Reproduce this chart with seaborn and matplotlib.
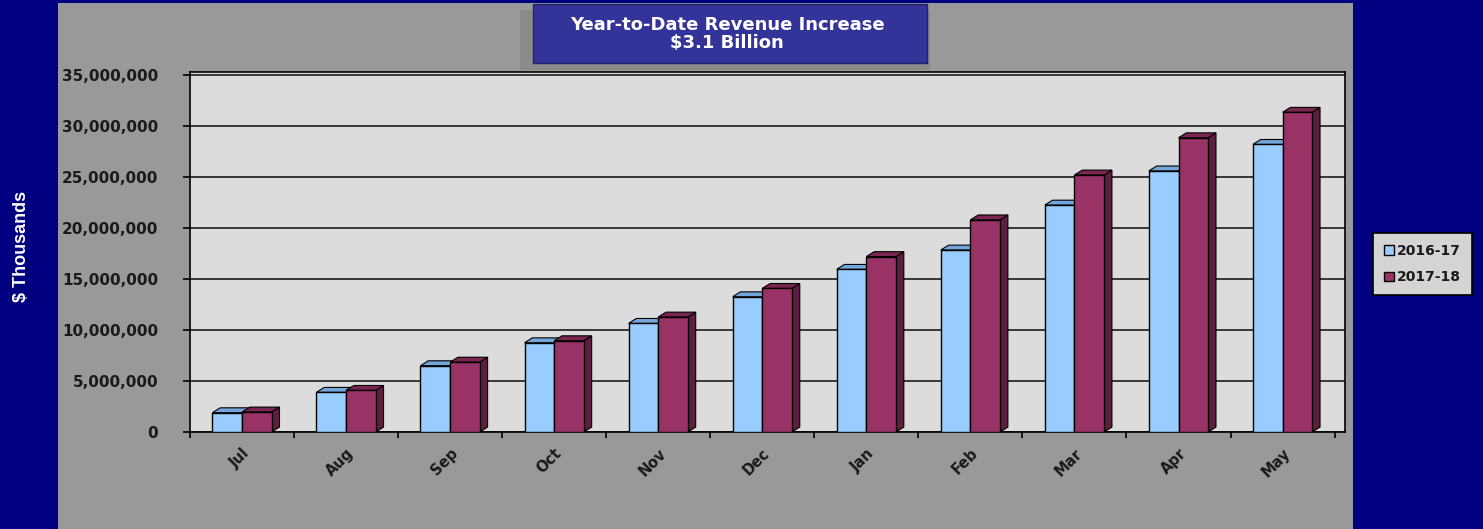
import matplotlib
matplotlib.use("Agg")
import matplotlib.pyplot as plt
import matplotlib.ticker as mticker
from matplotlib.patches import Polygon, Rectangle
import pandas as pd
import seaborn as sns

# values ($ thousands, cumulative)
months = ["Jul", "Aug", "Sep", "Oct", "Nov", "Dec", "Jan", "Feb", "Mar", "Apr", "May"]
seasons = ["2016-17", "2017-18"]
ytd_2016_17 = [1890000, 3890000, 6500000, 8750000, 10650000, 13260000,
               15950000, 17840000, 22250000, 25600000, 28200000]
ytd_2017_18 = [1960000, 4080000, 6850000, 8950000, 11270000, 14080000,
               17200000, 20800000, 25200000, 28850000, 31350000]
yticks = [0, 5000000, 10000000, 15000000, 20000000, 25000000, 30000000, 35000000]

front_colors = ["#99ccff", "#993366"]
top_colors = ["#74a6dc", "#7a2650"]
side_colors = ["#5e88b8", "#5e1e40"]

df = pd.DataFrame({
    "month": months * 2,
    "season": [seasons[0]] * len(months) + [seasons[1]] * len(months),
    "value": ytd_2016_17 + ytd_2017_18,
})

sns.set_style("white")
plt.rcParams["font.family"] = ["DejaVu Sans"]

fig = plt.figure(figsize=(14.83, 5.29), dpi=100, facecolor="#000080")

# grey slide panel
fig.patches.append(Rectangle((0.0391, 0.0), 0.8732, 0.9943, transform=fig.transFigure,
                             facecolor="#999999", edgecolor="none", zorder=-10))

ax = fig.add_axes([190 / 1483, 0.1834, 1155 / 1483, 0.6805])
ax.set_facecolor("#dcdcdc")

sns.barplot(data=df, x="month", y="value", hue="season", palette=front_colors,
            width=0.57, edgecolor="black", linewidth=1.0, saturation=1, ax=ax, zorder=3)

handles, labels = ax.get_legend_handles_labels()
if ax.get_legend() is not None:
    ax.get_legend().remove()

# fake 3D depth on each bar
dx = 0.075
dy = 480000
for i, cont in enumerate(ax.containers):
    for p in cont.patches:
        x, w, h = p.get_x(), p.get_width(), p.get_height()
        top = Polygon([(x, h), (x + w, h), (x + w + dx, h + dy), (x + dx, h + dy)],
                      closed=True, facecolor=top_colors[i], edgecolor="black", lw=0.8, zorder=2)
        side = Polygon([(x + w, 0), (x + w, h), (x + w + dx, h + dy), (x + w + dx, dy)],
                       closed=True, facecolor=side_colors[i], edgecolor="black", lw=0.8, zorder=2)
        ax.add_patch(side)
        ax.add_patch(top)

ax.set_xlim(-0.46, 10.6)
ax.set_ylim(0, 35300000)
ax.set_yticks(yticks)
ax.yaxis.set_major_formatter(mticker.FuncFormatter(lambda v, _: f"{v:,.0f}"))
ax.grid(axis="y", color="#2a2a2a", lw=1.3, zorder=1)
ax.set_axisbelow(True)

for s in ax.spines.values():
    s.set_color("black")
    s.set_linewidth(1.2)

ax.tick_params(axis="y", which="major", left=True, length=5, width=1.2, color="black",
               labelsize=11, pad=18)
for t in ax.get_yticklabels():
    t.set_fontweight("bold")
    t.set_color("#1a1a1a")

ax.set_xticks(range(len(months)))
ax.set_xticklabels(months, rotation=45, ha="right", rotation_mode="anchor",
                   fontsize=10.5, fontweight="bold", color="#1a1a1a")
ax.tick_params(axis="x", which="major", bottom=False, length=0, pad=10)
ax.set_xticks([k + 0.5 for k in range(-1, len(months))], minor=True)
ax.tick_params(axis="x", which="minor", bottom=True, length=4, width=1.2, color="black")
ax.set_xlabel("")
ax.set_ylabel("")

# y label on the navy margin
fig.text(22 / 1483, 1 - 246 / 529, "$ Thousands", rotation=90, ha="center", va="center",
         color="white", fontsize=13, fontweight="bold",
         family=["Liberation Sans Narrow", "Liberation Sans", "DejaVu Sans"])

# title box with shadow
fig.patches.append(Rectangle((520 / 1483, 1 - 70 / 529), 410 / 1483, 60 / 529,
                             transform=fig.transFigure, facecolor="#8a8a8a",
                             edgecolor="none", zorder=1))
fig.patches.append(Rectangle((533 / 1483, 1 - 63 / 529), 394 / 1483, 59 / 529,
                             transform=fig.transFigure, facecolor="#333399",
                             edgecolor="#222266", lw=1, zorder=2))
fig.text(727 / 1483, 1 - 34 / 529, "Year-to-Date Revenue Increase\n$3.1 Billion",
         ha="center", va="center", color="white", fontsize=13, fontweight="bold",
         linespacing=1.05, zorder=3)

leg = fig.legend(handles, labels, loc="center left", bbox_to_anchor=(1373 / 1483, 1 - 264 / 529),
                 frameon=True, fancybox=False, framealpha=1, facecolor="#d4d4d4",
                 edgecolor="black", fontsize=10, handlelength=0.7, handleheight=0.7,
                 handletextpad=0.2, labelspacing=0.9, borderpad=0.8, borderaxespad=0)
for t in leg.get_texts():
    t.set_fontweight("bold")
    t.set_color("#1a1a1a")
leg.get_frame().set_linewidth(1.2)

fig.savefig("out.png", dpi=100, facecolor=fig.get_facecolor())
